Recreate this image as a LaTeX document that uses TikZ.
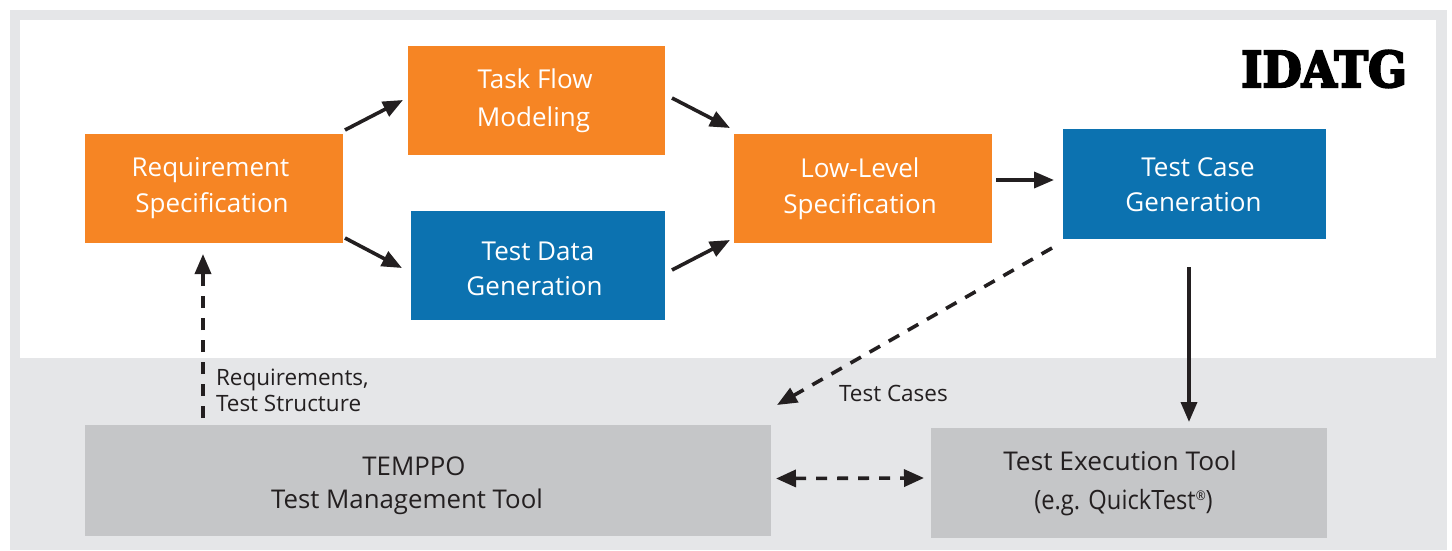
\documentclass[tikz,border=0pt]{standalone}
\usepackage{fontspec}
\setmainfont{Open Sans}
\newfontfamily\logofont[BoldFeatures={FakeBold=4.5}]{DejaVu Serif}
\usetikzlibrary{arrows.meta}
\definecolor{orangebox}{HTML}{F68524}
\definecolor{bluebox}{HTML}{0C72B0}
\definecolor{panelgray}{HTML}{E5E6E8}
\definecolor{toolgray}{HTML}{C5C6C8}
\definecolor{ink}{HTML}{231F20}
\newcommand{\nudge}[1]{\hspace*{#1pt}}
\tikzset{
  x=1pt,y=-1pt,
  boxbase/.style={rectangle,inner sep=0pt,outer sep=0pt,align=center,anchor=north west,font=\fontsize{26}{36}\selectfont},
  orangenode/.style={boxbase,fill=orangebox,text=white},
  bluenode/.style={boxbase,fill=bluebox,text=white},
  toolnode/.style={boxbase,fill=toolgray,text=ink,font=\fontsize{25.8}{39}\selectfont},
  note/.style={inner sep=0pt,outer sep=0pt,align=left,anchor=north west,text=ink,font=\fontsize{22.5}{26}\selectfont},
  arr/.style={draw=ink,line width=3.6pt,-{Triangle[length=20pt,width=16pt]}},
  dasharr/.style={arr,dash pattern=on 12pt off 10pt},
  dblarr/.style={draw=ink,line width=3.6pt,dash pattern=on 11pt off 10pt,{Triangle[length=20pt,width=17pt]}-{Triangle[length=20pt,width=17pt]}}
}
\begin{document}
\begin{tikzpicture}
\useasboundingbox (0,0) rectangle (1452,550);
\fill[white] (0,0) rectangle (1452,550);
\fill[panelgray] (10,10) rectangle (1447,550);
\fill[white] (20,20) rectangle (1436,358);
\node[orangenode,minimum width=258pt,minimum height=109pt] (req) at (85,134) {Requirement\nudge{7}\\Specification\nudge{4}};
\node[orangenode,minimum width=257pt,minimum height=109pt] (task) at (408,46) {Task Flow\nudge{3}\\[2pt]Modeling\nudge{6}};
\node[bluenode,minimum width=254pt,minimum height=109pt] (data) at (411,211) {\rule{0pt}{26pt}Test Data\\[-1pt]Generation\nudge{7}};
\node[orangenode,minimum width=258pt,minimum height=109pt] (low) at (734,134) {Low-Level\nudge{6}\\Specification\nudge{6}};
\node[bluenode,minimum width=263pt,minimum height=110pt] (case) at (1063,129) {\rule{0pt}{21pt}\nudge{7}Test Case\\[-1pt]Generation\nudge{2}};
\node[toolnode,minimum width=686pt,minimum height=111pt] (temppo) at (85,425) {\rule{0pt}{29pt}TEMPPO\nudge{28}\\[-6pt]Test Management Tool\nudge{42}};
\node[toolnode,minimum width=396pt,minimum height=110pt] (exec) at (931,428) {\scalebox{1.02}[1]{Test Execution Tool}\nudge{18}\\\scalebox{0.92}[1.03]{(e.g. QuickTest\raisebox{8pt}{\fontsize{13}{13}\selectfont ®})}\nudge{11}};
\node[inner sep=0pt,anchor=east,text=black] (logo) at (1407,69) {\scalebox{1.03}[1.12]{\logofont\bfseries\fontsize{44}{44}\selectfont IDATG}};
\node[note] (reqlabel) at (216,369) {Requirements,\\Test Structure};
\node[note] (caselabel) at (839,385) {Test Cases};
\draw[arr] ([shift={(2,-4)}]req.north east) -- ([shift={(-5,-0.5)}]task.west);
\draw[arr] ([shift={(7,-2.5)}]task.east) -- ([shift={(-4,-6)}]low.north west);
\draw[arr] ([shift={(2,-5)}]req.south east) -- ([shift={(-9,2.5)}]data.west);
\draw[arr] ([shift={(7,4.5)}]data.east) -- ([shift={(-4,-3)}]low.south west);
\draw[arr] ([shift={(4,-8.5)}]low.east) -- ([shift={(-9,-4)}]case.west);
\draw[dasharr] ([shift={(-11,9)}]case.south west) -- ([shift={(6,-20)}]temppo.north east);
\draw[arr] ([shift={(-5.5,28)}]case.south) -- ([shift={(60,-6)}]exec.north);
\draw[dasharr] ([shift={(118,-7)}]temppo.north west) -- ([shift={(118,11)}]req.south west);
\draw[dblarr] ([shift={(5,-2)}]temppo.east) -- ([shift={(-7,-5)}]exec.west);
\end{tikzpicture}
\end{document}
